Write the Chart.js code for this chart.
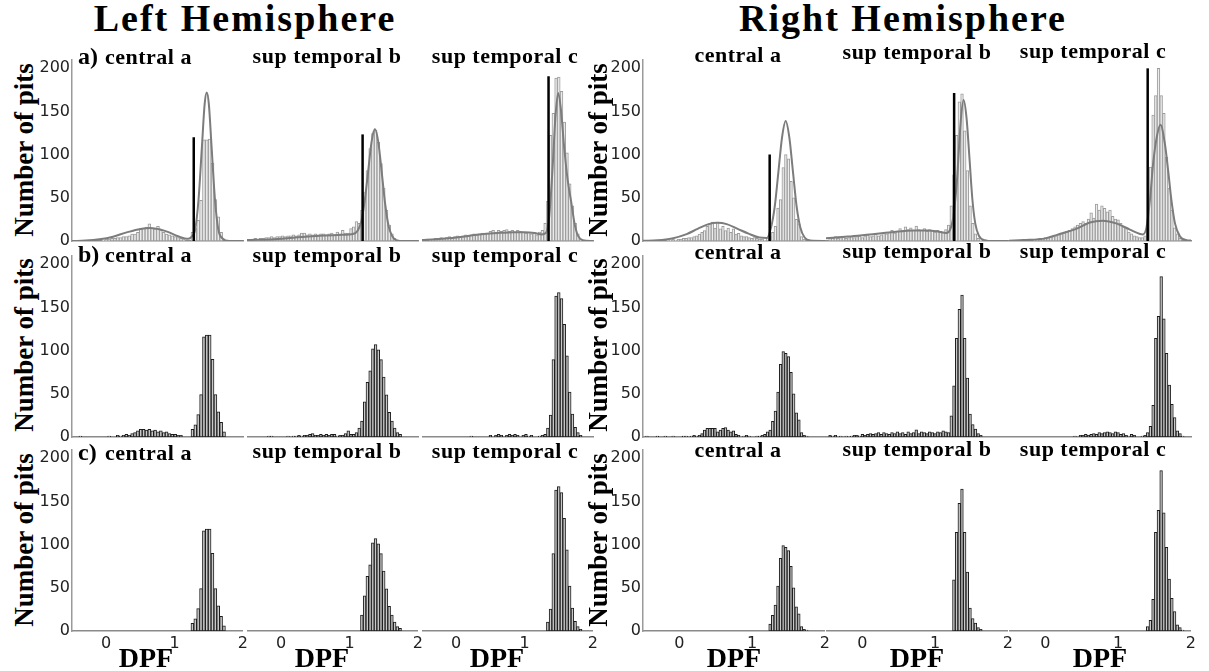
<!DOCTYPE html>
<html>
<head>
<meta charset="utf-8">
<script src="https://cdn.jsdelivr.net/npm/chart.js@4.4.1/dist/chart.umd.min.js"></script>
<style>
  body { margin: 0; background: #fff; width: 1209px; height: 671px; position: relative; overflow: hidden; }
  canvas { position: absolute; }
  .lbl { position: absolute; font-family: "Liberation Serif", serif; font-weight: bold; color: #000; white-space: nowrap; line-height: 1; }
</style>
</head>
<body>
<script>
// ---- data ----
const xMin = -0.5, xMax = 2, yMax = 210;

// left hemisphere, central a (bins start -0.44, width 0.042)
const laStart = -0.44, laWidth = 0.042;
const laCountsA = [0,0,0,0,0,0,0,0,0,1, 2,2,3,3,4,4,5,5,6,8, 8,10,14,15,16,20,15,14,17,13,
  10,8,7,6,5,4,3,2,0,0, 10,15,24,47,117,117,118,90,48,28, 10,0];
const laCountsB = [0,1,0,0,0,0,0,0,0,0, 0,1,0,0,2,1,2,3,2,4, 5,7,9,9,8,9,7,8,6,7,
  5,6,4,3,3,2,2,0,0,0, 9,14,26,49,116,118,118,90,49,29, 17,6,0];
const laFitX = [-0.5,-0.3,-0.1,0.1,0.3,0.5,0.65,0.8,0.9,1.05,1.2,1.25,1.3,1.35,1.4,1.44,1.47,1.5,1.54,1.59,1.64,1.7,1.8,2.0];
const laFitY = [0,0.5,2,5,10,14,15,13,10.5,5.5,2.5,5,13,48,110,159,172,159,110,48,13,3,0,0];
const laThreshold = 1.28, laThresholdTop = 120;

// left hemisphere, sup temporal b (bins start -0.48, width 0.04)
const lbStart = -0.48, lbWidth = 0.04;
const lbCountsA = [2,2,3,2,3,3,4,4,5,4, 5,5,6,5,6,6,7,6,7,9, 9,7,8,7,8,7,8,8,7,8,
  9,7,10,8,12,9,9,14,16,22, 20,35,55,80,105,122,126,112,88,60, 35,18,8,3,1,0];
const lbCountsB = [0,0,0,0,0,0,0,1,1,0, 0,0,0,0,1,0,1,1,2,1, 2,2,3,4,2,2,3,2,3,2,
  3,3,1,2,2,4,7,3,3,5, 10,18,40,62,75,100,105,99,88,68, 48,28,18,10,5,3,0];
const lbFitX = [-0.5,-0.1,0.4,0.9,1.05,1.12,1.17,1.22,1.27,1.32,1.37,1.42,1.47,1.52,1.57,1.62,1.68,1.8,2.0];
const lbFitY = [1,2,5,7,8,12,22,45,78,112,127,112,78,42,17,6,1,0,0];
const lbThreshold = 1.19, lbThresholdTop = 121;

// left hemisphere, sup temporal c (bins start -0.48, width 0.04)
const lcStart = -0.48, lcWidth = 0.04;
const lcCountsA = [0,0,2,2,3,3,4,3,4,5, 4,5,6,5,6,7,6,7,8,7, 8,9,8,9,11,12,10,12,11,12,
  13,11,12,10,12,11,10,9,10,8, 9,7,10,12,20,45,120,145,185,186, 170,135,100,65,40,20,8,2,0];
const lcCountsB = [0,0,0,0,0,0,0,0,0,0, 0,0,0,0,0,0,0,1,0,0, 0,0,0,0,2,0,2,3,2,0,
  2,3,2,3,2,0,2,3,1,2, 0,0,1,2,3,10,25,88,160,164, 157,128,92,51,26,11,5,2,0];
const lcFitX = [-0.5,-0.3,0,0.3,0.6,0.85,1.0,1.15,1.25,1.31,1.36,1.41,1.45,1.49,1.53,1.58,1.63,1.68,1.73,1.78,1.85,2.0];
const lcFitY = [1,2,4,7,9,10,10,9,7.5,9,28,84,140,168,150,105,69,45,20,6,1,0];
const lcThreshold = 1.35, lcThresholdTop = 187;

// right hemisphere, central a (bins start -0.5, width 0.036)
const raStart = -0.5, raWidth = 0.036;
const raCountsA = [0,0,0,0,0,0,0,0,0,1, 1,2,1,2,2,3,3,4,4,5, 6,8,10,12,17,20,22,15,22,14,
  17,12,15,10,14,8,9,6,5,5, 4,3,4,3,2,2,1,3,5,10, 17,38,48,85,100,95,69,50,25,20, 5,2,0];
const raCountsB = [0,1,0,0,0,1,0,0,1,0, 0,1,0,0,0,1,1,0,1,2, 1,2,4,8,10,10,10,10,6,8,
  10,11,8,6,7,3,2,0,1,2, 1,0,0,1,1,2,3,6,8,18, 30,52,84,99,97,93,75,50,28,20, 5,2,1,0];
const raFitX = [-0.5,-0.3,-0.1,0.1,0.25,0.4,0.52,0.65,0.8,0.95,1.1,1.2,1.26,1.31,1.36,1.41,1.46,1.51,1.56,1.61,1.66,1.72,1.8,2.0];
const raFitY = [0.2,0.8,3,8,14,19.5,21,19.5,14,8.5,4,3.5,16,40,80,120,139,120,80,40,16,4,0.5,0];
const raThreshold = 1.24, raThresholdTop = 100;

// right hemisphere, sup temporal b (bins start -0.5, width 0.037)
const rbStart = -0.5, rbWidth = 0.037;
const rbCountsA = [0,4,3,5,3,4,5,3,4,5, 4,5,6,4,6,7,5,6,8,6, 7,9,8,10,12,9,11,14,12,16,
  13,15,12,17,13,12,14,11,13,12, 10,12,11,10,13,18,40,75,120,158, 167,125,80,40,20,8,3,1,0];
const rbCountsB = [0,2,1,2,0,1,0,1,0,1, 2,2,1,3,2,3,4,3,4,5, 3,5,4,3,5,4,6,4,5,3,
  6,4,5,8,4,6,5,4,6,5, 4,6,5,7,6,5,24,58,112,145, 161,112,67,26,14,9,4,2,0];
const rbFitX = [-0.5,-0.2,0.1,0.4,0.7,0.9,1.05,1.15,1.2,1.25,1.3,1.35,1.39,1.43,1.47,1.51,1.55,1.6,1.68,1.8,2.0];
const rbFitY = [3,5,7.5,10,12,12,10.5,9,12,28,70,135,160,140,95,48,20,6,1,0,0];
const rbThreshold = 1.26, rbThresholdTop = 168;

// right hemisphere, sup temporal c (bins start -0.5, width 0.037)
const rcStart = -0.5, rcWidth = 0.037;
const rcCountsA = [0,0,0,0,0,0,0,0,0,2, 2,3,3,4,4,5,5,6,7,8, 9,11,12,14,16,18,20,22,20,25,
  32,26,42,35,40,37,33,35,28,25, 24,20,16,14,10,8,6,5,4,4, 6,15,84,143,165,196,165,145,95,60, 35,15,8,3,0];
const rcCountsB = [0,0,0,0,0,0,0,0,0,0, 0,0,0,0,0,0,0,0,0,0, 0,0,0,0,1,0,2,2,3,2,
  3,4,3,5,4,5,6,5,4,6, 5,3,4,2,1,3,2,0,0,1, 2,5,12,36,112,137,182,134,95,59, 37,22,7,4,1,0];
const rcFitX = [-0.5,-0.3,0,0.16,0.43,0.61,0.79,0.97,1.16,1.3,1.34,1.39,1.44,1.48,1.53,1.58,1.64,1.69,1.73,1.78,1.85,1.94,2.0];
const rcFitY = [0.3,1,3,7,14,21,23,20,13,8,7.5,16,50,88,118,132,111,77,47,20,5,1,0.5];
const rcThreshold = 1.405, rcThresholdTop = 196;

const regionNames = ["central a", "sup temporal b", "sup temporal c"];
const rowTags = ["a)", "b)", "c)"];

const regions = [
  [ {start: laStart, width: laWidth, a: laCountsA, b: laCountsB, fitX: laFitX, fitY: laFitY, thr: laThreshold, thrTop: laThresholdTop},
    {start: lbStart, width: lbWidth, a: lbCountsA, b: lbCountsB, fitX: lbFitX, fitY: lbFitY, thr: lbThreshold, thrTop: lbThresholdTop},
    {start: lcStart, width: lcWidth, a: lcCountsA, b: lcCountsB, fitX: lcFitX, fitY: lcFitY, thr: lcThreshold, thrTop: lcThresholdTop} ],
  [ {start: raStart, width: raWidth, a: raCountsA, b: raCountsB, fitX: raFitX, fitY: raFitY, thr: raThreshold, thrTop: raThresholdTop},
    {start: rbStart, width: rbWidth, a: rbCountsA, b: rbCountsB, fitX: rbFitX, fitY: rbFitY, thr: rbThreshold, thrTop: rbThresholdTop},
    {start: rcStart, width: rcWidth, a: rcCountsA, b: rcCountsB, fitX: rcFitX, fitY: rcFitY, thr: rcThreshold, thrTop: rcThresholdTop} ]
];

// ---- layout ----
const hemis = [
  {axisLeft: [72, 247, 422], plotW: 171, title: "Left Hemisphere", titleX: 245,
   nameX: [null, 327, 505], dpfX: [146, 322, 497], pitsX: 24, base: [[64, 262, 460], [63, 262, 458], [63, 262, 458]]},
  {axisLeft: [643, 826, 1009], plotW: 182, title: "Right Hemisphere", titleX: 903,
   nameX: [738, 917, 1093], dpfX: [734, 917, 1100], pitsX: 598, base: [[62, 259, 457], [59, 258, 456], [58, 258, 456]]}
];
const rowBottom = [241, 437, 631];
const rowMid = [150, 345, 540];
const plotH = 185;

Chart.defaults.font.family = "'DejaVu Sans', sans-serif";
Chart.defaults.font.size = 16;
Chart.defaults.color = "#222";

function label(text, x, baseline, size, align, extra) {
  const d = document.createElement("div");
  d.className = "lbl";
  d.textContent = text;
  d.style.fontSize = size + "px";
  d.style.left = x + "px";
  d.style.top = (baseline - 0.84 * size) + "px";
  if (align === "center") d.style.transform = "translateX(-50%)";
  if (extra) Object.assign(d.style, extra);
  document.body.appendChild(d);
}

function vlabel(text, cx, cy, size) {
  const d = document.createElement("div");
  d.className = "lbl";
  d.textContent = text;
  d.style.fontSize = size + "px";
  d.style.left = cx + "px";
  d.style.top = cy + "px";
  d.style.transform = "translate(-50%,-50%) rotate(-90deg)";
  document.body.appendChild(d);
}

function binData(reg, counts, row) {
  return counts.map((c, i) => {
    const x = reg.start + reg.width * (i + 0.5);
    const keep = row < 2 || x >= reg.thr - reg.width / 2;
    return {x: x, y: (c > 0 && keep) ? c : null};
  });
}

function makePanel(h, col, row) {
  const reg = regions[h][col];
  const hemi = hemis[h];
  const showY = col === 0;
  const yW = showY ? 45 : 0;
  const xH = row === 2 ? 26 : 0;
  // bottom padding leaves room for the half of the "0" tick label
  const padT = 8, padR = 8, padB = row === 2 ? 2 : 12;
  const cv = document.createElement("canvas");
  cv.width = yW + hemi.plotW + padR;
  cv.height = padT + plotH + xH + padB;
  cv.style.left = (hemi.axisLeft[col] - yW) + "px";
  cv.style.top = (rowBottom[row] - plotH - padT) + "px";
  document.body.appendChild(cv);

  const datasets = [{
    type: "bar",
    data: binData(reg, row === 0 ? reg.a : reg.b, row),
    backgroundColor: row === 0 ? "#ececec" : "#c9c9c9",
    borderColor: row === 0 ? "#9c9c9c" : "#1c1c1c",
    borderWidth: 1,
    borderSkipped: false,
    barPercentage: 1,
    categoryPercentage: 1,
    order: 3
  }];
  if (row === 0) {
    datasets.push({
      type: "line",
      data: reg.fitX.map((x, i) => ({x: x, y: reg.fitY[i]})),
      borderColor: "#7c7c7c",
      borderWidth: 2,
      pointRadius: 0,
      cubicInterpolationMode: "monotone",
      order: 2
    });
    datasets.push({
      type: "line",
      data: [{x: reg.thr, y: 0}, {x: reg.thr, y: reg.thrTop}],
      borderColor: "#000",
      borderWidth: 2.5,
      pointRadius: 0,
      order: 1
    });
  }

  new Chart(cv, {
    type: "bar",
    data: {datasets: datasets},
    options: {
      responsive: false,
      animation: false,
      devicePixelRatio: 1,
      events: [],
      layout: {padding: {top: padT, right: padR, bottom: padB, left: 0}},
      plugins: {legend: {display: false}, tooltip: {enabled: false}},
      scales: {
        x: {
          type: "linear", min: xMin, max: xMax, offset: false,
          grid: {display: false, drawTicks: false},
          border: {display: true, color: "#8a8a8a", width: 1.5},
          ticks: {display: row === 2, stepSize: 1, includeBounds: false, padding: 3, autoSkip: false},
          afterFit: (s) => { s.height = xH; }
        },
        y: {
          type: "linear", min: 0, max: yMax,
          grid: {display: false, drawTicks: false},
          border: {display: showY, color: "#9a9a9a", width: 1.5},
          ticks: {display: showY, stepSize: 50, includeBounds: false, padding: 2},
          afterFit: (s) => { s.width = yW; }
        }
      }
    }
  });
}

for (let h = 0; h < 2; h++) {
  const hemi = hemis[h];
  label(hemi.title, hemi.titleX, 31, 38, "center", {letterSpacing: "2px"});
  for (let row = 0; row < 3; row++) {
    vlabel("Number of pits", hemi.pitsX, rowMid[row], 27);
    for (let col = 0; col < 3; col++) {
      makePanel(h, col, row);
      const b = hemi.base[col][row];
      if (h === 0 && col === 0) {
        label(rowTags[row], 78, b, 24, "left");
        label(regionNames[col], 105, b, 22, "left", {letterSpacing: "0.5px"});
      } else {
        label(regionNames[col], hemi.nameX[col], b, 22, "center", {letterSpacing: "0.5px"});
      }
    }
  }
  for (let col = 0; col < 3; col++) {
    label("DPF", hemi.dpfX[col], 668, 28, "center");
  }
}
</script>
</body>
</html>
